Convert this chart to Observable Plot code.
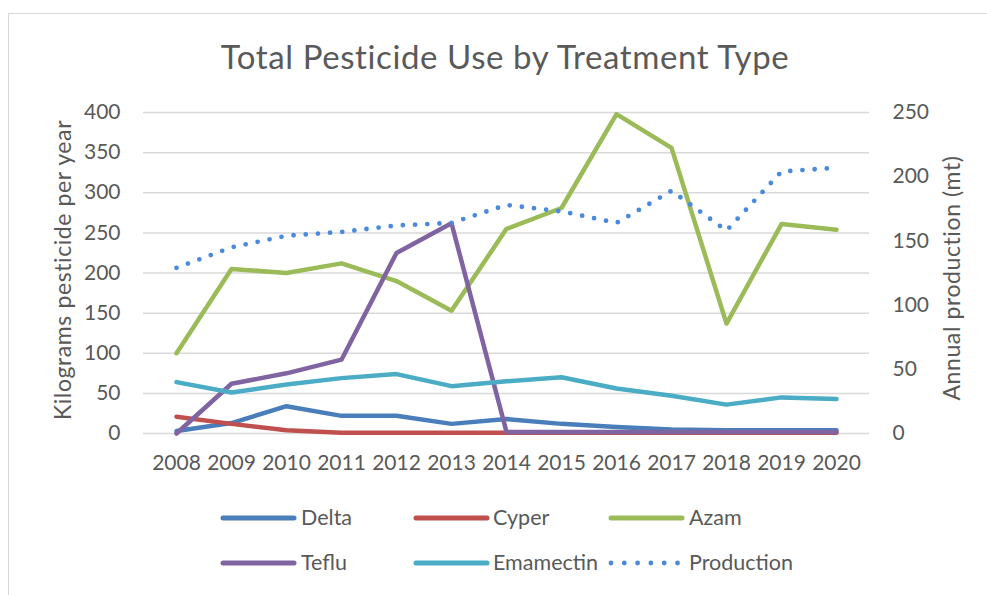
<!DOCTYPE html>
<html>
<head>
<meta charset="utf-8">
<script src="https://cdn.jsdelivr.net/npm/d3@7"></script>
<script src="https://cdn.jsdelivr.net/npm/@observablehq/plot@0.6"></script>
<style>
  body { margin: 0; background: #fff; }
  #wrap { position: relative; width: 987px; height: 595px; overflow: hidden; font-family: Lato, sans-serif; color: #595959; background: #fff; }
  #frame { position: absolute; left: 8px; top: 13px; width: 1100px; height: 700px; border-left: 1.5px solid #d9d9d9; border-top: 1.5px solid #d9d9d9; }
  #title { position: absolute; left: 0; width: 1010px; top: 37px; text-align: center; font-size: 33px; letter-spacing: 0.6px; line-height: 38px; white-space: nowrap; }
  .ytitle { position: absolute; font-size: 23px; letter-spacing: 0.6px; line-height: 26px; white-space: nowrap; transform: translate(-50%, -50%) rotate(-90deg); }
  #chart { position: absolute; left: 0; top: 0; }
  .leg { position: absolute; font-size: 21.5px; line-height: 24px; white-space: nowrap; }
</style>
</head>
<body>
<div id="wrap">
  <div id="frame"></div>
  <div id="title">Total Pesticide Use by Treatment Type</div>
  <div class="ytitle" style="left:62px; top:270px;">Kilograms pesticide per year</div>
  <div class="ytitle" style="left:951px; top:278px;">Annual production (mt)</div>
  <div id="chart"></div>
</div>
<script>
const years = [2008, 2009, 2010, 2011, 2012, 2013, 2014, 2015, 2016, 2017, 2018, 2019, 2020];
const delta     = [3, 13, 34, 22, 22, 12, 18, 12, 8, 5, 4, 4, 4];
const cyper     = [21, 12, 4, 1, 1, 1, 1, 1, 1, 1, 1, 1, 1];
const azam      = [100, 205, 200, 212, 190, 153, 255, 281, 398, 356, 137, 261, 254];
const teflu     = [0, 62, 75, 92, 225, 262, 2, 2, 2, 2, 2, 2, 2];
const emamectin = [64, 51, 61, 69, 74, 59, 65, 70, 56, 47, 36, 45, 43];
const production = [129, 145, 154, 157, 162, 164, 178, 173, 164, 189, 158, 204, 207];
const leftTicks = [0, 50, 100, 150, 200, 250, 300, 350, 400];
const rightTicks = [0, 50, 100, 150, 200, 250];
const seriesNames = ["Delta", "Cyper", "Azam", "Teflu", "Emamectin", "Production"];
const seriesColors = ["#4a7ebb", "#c0504d", "#9bbb59", "#8064a2", "#4bacc6", "#4a89dc"];

const k = 400 / 250; // secondary axis mapped onto primary
const solid = [delta, cyper, azam, teflu, emamectin];

const lineMarks = solid.map((vals, s) =>
  Plot.line(years.map((y, i) => ({year: y, value: vals[i]})), {
    x: "year", y: "value", stroke: seriesColors[s], strokeWidth: 4.5,
    strokeLinecap: "round", strokeLinejoin: "round"
  })
);
const prodRows = years.map((y, i) => ({year: y, value: production[i] * k}));
lineMarks.push(Plot.line(prodRows, {
  x: "year", y: "value", stroke: seriesColors[5], strokeWidth: 4.8,
  strokeLinecap: "round", strokeDasharray: "0 12.2"
}));

const chart = Plot.plot({
  width: 987,
  height: 480,
  marginLeft: 143,
  marginRight: 118,
  marginTop: 112,
  marginBottom: 47,
  style: {fontFamily: "Lato, sans-serif", fontSize: "21px", color: "#595959", background: "transparent", overflow: "visible"},
  x: {type: "point", domain: years, padding: 0.5, axis: null},
  y: {domain: [0, 400], axis: null},
  marks: [
    Plot.gridY(leftTicks, {stroke: "#d9d9d9", strokeOpacity: 1, strokeWidth: 1.5}),
    Plot.axisY(leftTicks, {anchor: "left", tickSize: 0, tickPadding: 23, label: null, fill: "#595959"}),
    Plot.axisY(rightTicks.map(v => v * k), {anchor: "right", tickSize: 0, tickPadding: 23, label: null, fill: "#595959", tickFormat: d => String(Math.round(d / k))}),
    Plot.axisX({tickSize: 0, tickPadding: 22, label: null, fill: "#595959", tickFormat: d => String(d)}),
    ...lineMarks
  ]
});
document.getElementById("chart").appendChild(chart);

// legend
const legPos = [
  {sx: 223, tx: 301, cy: 518}, {sx: 416, tx: 493, cy: 518}, {sx: 611, tx: 689, cy: 518},
  {sx: 223, tx: 301, cy: 563}, {sx: 416, tx: 493, cy: 563}, {sx: 611, tx: 689, cy: 563}
];
const wrap = document.getElementById("wrap");
seriesNames.forEach((name, i) => {
  const p = legPos[i];
  const ns = "http://www.w3.org/2000/svg";
  const svg = document.createElementNS(ns, "svg");
  svg.setAttribute("width", 80); svg.setAttribute("height", 12);
  svg.style.position = "absolute"; svg.style.left = (p.sx - 4) + "px"; svg.style.top = (p.cy - 6) + "px";
  const ln = document.createElementNS(ns, "line");
  ln.setAttribute("x1", 4); ln.setAttribute("x2", i === 5 ? 72 : 75);
  ln.setAttribute("y1", 6); ln.setAttribute("y2", 6);
  ln.setAttribute("stroke", seriesColors[i]);
  ln.setAttribute("stroke-linecap", "round");
  if (i === 5) { ln.setAttribute("stroke-width", 4.8); ln.setAttribute("stroke-dasharray", "0 13.3"); }
  else { ln.setAttribute("stroke-width", 5); }
  svg.appendChild(ln);
  wrap.appendChild(svg);
  const t = document.createElement("div");
  t.className = "leg";
  t.textContent = name;
  t.style.left = p.tx + "px";
  t.style.top = (p.cy - 13) + "px";
  wrap.appendChild(t);
});
</script>
</body>
</html>
